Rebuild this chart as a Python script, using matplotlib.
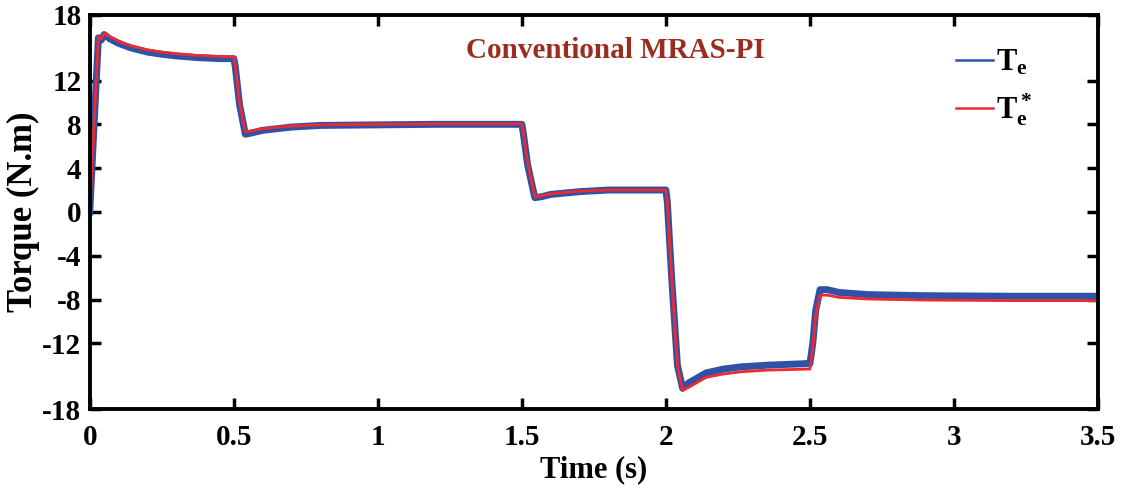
import numpy as np
import matplotlib.pyplot as plt

# time points (s)
t = [0, 0.03, 0.04, 0.05, 0.07, 0.1, 0.14, 0.2, 0.25, 0.3, 0.37, 0.45, 0.5,
     0.505, 0.52, 0.54, 0.56, 0.6, 0.7, 0.8, 1.0, 1.2, 1.5,
     1.505, 1.52, 1.545, 1.57, 1.6, 1.7, 1.8, 2.0,
     2.005, 2.02, 2.04, 2.058, 2.08, 2.14, 2.2, 2.26, 2.35, 2.49, 2.5,
     2.51, 2.52, 2.535, 2.56, 2.6, 2.7, 2.9, 3.2, 3.5]

# reference torque Te* (N.m)
te_ref = [0, 16.0, 15.8, 16.3, 16.0, 15.6, 15.2, 14.8, 14.6, 14.45, 14.3, 14.2, 14.15,
          13.5, 10.0, 7.3, 7.4, 7.6, 7.85, 7.95, 8.0, 8.05, 8.05,
          7.3, 4.5, 1.4, 1.5, 1.65, 1.9, 2.0, 2.0,
          1.0, -6.0, -14.0, -16.3, -16.0, -15.1, -14.8, -14.6, -14.45, -14.35, -14.35,
          -12.5, -9.5, -7.6, -7.6, -7.8, -7.95, -8.05, -8.1, -8.1]

# estimated torque Te (N.m), noisy band centre
te_est = [0, 15.9, 15.7, 16.2, 15.8, 15.4, 15.0, 14.6, 14.4, 14.25, 14.1, 14.0, 14.0,
          13.3, 9.8, 7.1, 7.2, 7.45, 7.75, 7.9, 7.95, 8.0, 8.0,
          7.2, 4.3, 1.3, 1.4, 1.6, 1.85, 2.0, 2.0,
          0.9, -6.0, -14.0, -16.1, -15.6, -14.7, -14.35, -14.15, -14.0, -13.85, -13.85,
          -12.0, -9.0, -7.1, -7.1, -7.35, -7.55, -7.65, -7.7, -7.7]

xticks = [0, 0.5, 1, 1.5, 2, 2.5, 3, 3.5]
xticklabels = ['0', '0.5', '1', '1.5', '2', '2.5', '3', '3.5']
yticks = [-18, -12, -8, -4, 0, 4, 8, 12, 18]

plt.rcParams['font.family'] = 'Liberation Serif'
plt.rcParams['font.weight'] = 'bold'
plt.rcParams['axes.unicode_minus'] = False
plt.rcParams['mathtext.fontset'] = 'custom'
plt.rcParams['mathtext.rm'] = 'Liberation Serif:bold'
plt.rcParams['mathtext.bf'] = 'Liberation Serif:bold'
plt.rcParams['mathtext.it'] = 'Liberation Serif:bold'

fig = plt.figure(figsize=[11.22, 4.94], dpi=100)
ax = fig.add_axes([0.080, 0.172, 0.8986, 0.798])

ax.plot(t, te_est, color='#2F52A6', linewidth=5, solid_joinstyle='round', label=r'$\mathbf{T_e}$')
ax.plot(t, te_ref, color='#EE2A2F', linewidth=2, label=r'$\mathbf{T_e^*}$')

ax.set_xlim(0, 3.5)
ax.set_ylim(-18, 18)
ax.set_xticks(xticks)
ax.set_xticklabels(xticklabels)
ax.set_yticks(yticks)
ax.tick_params(direction='in', length=8, width=2.5, labelsize=21,
               top=True, right=True, pad=6)
ax.tick_params(axis='x', pad=11)
for sp in ax.spines.values():
    sp.set_linewidth(2.8)

ax.set_xlabel('Time (s)', fontsize=22, fontweight='bold', labelpad=3)
ax.set_ylabel('Torque (N.m)', fontsize=25, fontweight='bold', labelpad=2)

ax.text(0.521, 0.91, 'Conventional MRAS-PI', transform=ax.transAxes,
        ha='center', va='center', fontsize=21, fontweight='bold', color='#9B2D20')

leg = ax.legend(loc='upper right', bbox_to_anchor=(0.962, 0.985), frameon=False,
                fontsize=22, handlelength=1.2, handletextpad=0.1, labelspacing=0.45)
for h in leg.legend_handles:
    h.set_linewidth(1.8)

fig.savefig('out.png', dpi=100)
